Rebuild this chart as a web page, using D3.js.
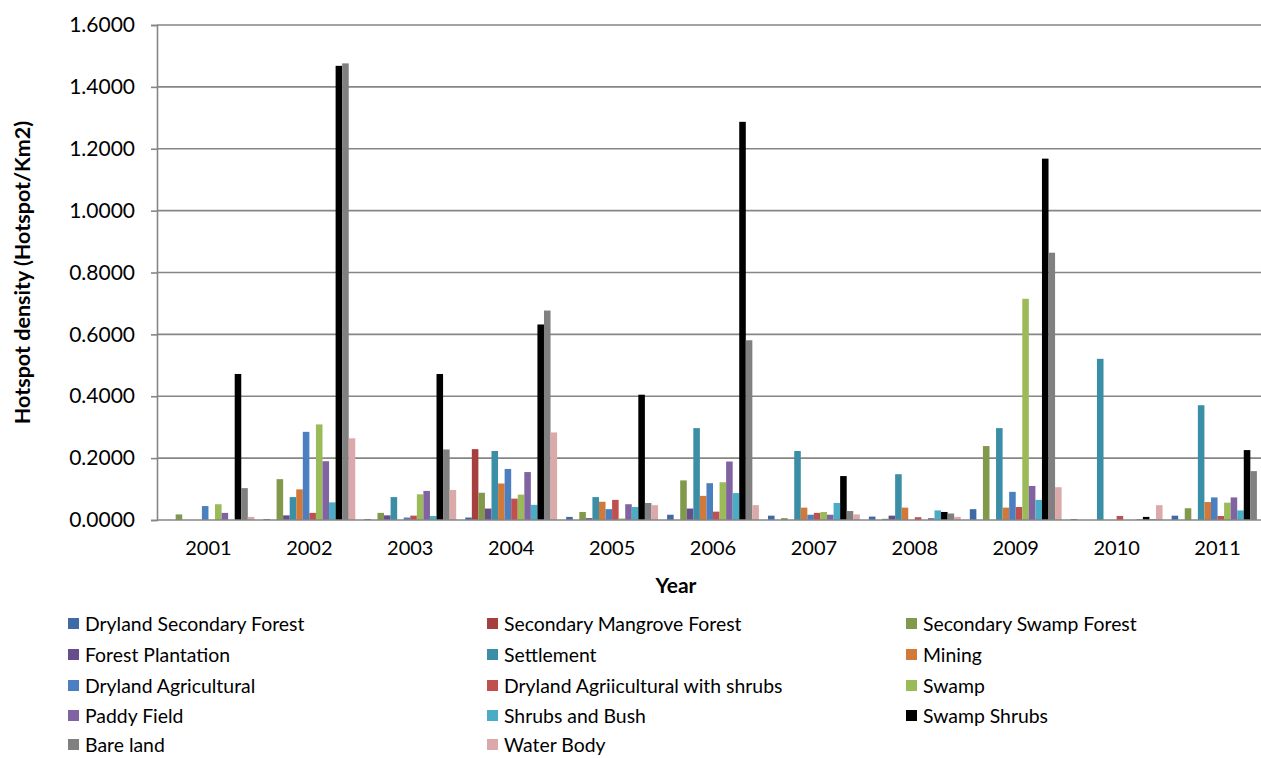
<!DOCTYPE html>
<html>
<head>
<meta charset="utf-8">
<script src="https://cdn.jsdelivr.net/npm/d3@7"></script>
<style>
  body { margin: 0; background: #fff; }
  svg { display: block; }
  text { font-family: Lato, "Open Sans", sans-serif; fill: #000; }
</style>
</head>
<body>
<svg id="chart" width="1261" height="758"></svg>
<script>
// ---- data ----
const years = ["2001","2002","2003","2004","2005","2006","2007","2008","2009","2010","2011"];
const seriesNames = [
  "Dryland Secondary Forest", "Secondary Mangrove Forest", "Secondary Swamp Forest",
  "Forest Plantation", "Settlement", "Mining",
  "Dryland Agricultural", "Dryland Agriicultural with shrubs", "Swamp",
  "Paddy Field", "Shrubs and Bush", "Swamp Shrubs",
  "Bare land", "Water Body"
];
const seriesColors = [
  "#3f6aa6", "#a5403e", "#80994a", "#664d8c", "#3a8ea5", "#d0793a",
  "#4b7fc0", "#c0504d", "#9bbb59", "#8064a2", "#4bacc6", "#000000",
  "#808080", "#dba9a9"
];
const drylandSecondaryForest = [0, 0.003, 0.003, 0.008, 0.010, 0.017, 0.014, 0.011, 0.035, 0.003, 0.014];
const secondaryMangroveForest = [0, 0, 0, 0.229, 0, 0, 0, 0, 0, 0, 0];
const secondarySwampForest = [0.018, 0.132, 0.023, 0.088, 0.026, 0.128, 0.006, 0.004, 0.239, 0, 0.038];
const forestPlantation = [0, 0.015, 0.015, 0.037, 0.006, 0.037, 0, 0.014, 0, 0, 0];
const settlement = [0, 0.074, 0.074, 0.223, 0.074, 0.297, 0.223, 0.148, 0.297, 0.521, 0.371];
const mining = [0, 0.099, 0, 0.118, 0.059, 0.078, 0.040, 0.040, 0.040, 0, 0.058];
const drylandAgricultural = [0.045, 0.285, 0.008, 0.165, 0.035, 0.119, 0.017, 0, 0.091, 0, 0.073];
const drylandAgriWithShrubs = [0, 0.023, 0.014, 0.069, 0.065, 0.027, 0.023, 0.009, 0.042, 0.013, 0.013];
const swamp = [0.051, 0.309, 0.083, 0.082, 0.005, 0.122, 0.026, 0, 0.715, 0, 0.056];
const paddyField = [0.023, 0.190, 0.094, 0.155, 0.051, 0.189, 0.017, 0.006, 0.110, 0, 0.073];
const shrubsAndBush = [0, 0.057, 0.013, 0.049, 0.042, 0.087, 0.055, 0.031, 0.065, 0.003, 0.031];
const swampShrubs = [0.472, 1.468, 0.472, 0.632, 0.405, 1.287, 0.142, 0.026, 1.168, 0.010, 0.226];
const bareLand = [0.103, 1.476, 0.228, 0.677, 0.055, 0.581, 0.029, 0.021, 0.864, 0.003, 0.158];
const waterBody = [0.010, 0.264, 0.097, 0.283, 0.048, 0.048, 0.018, 0.010, 0.106, 0.048, 0];
const seriesValues = [
  drylandSecondaryForest, secondaryMangroveForest, secondarySwampForest,
  forestPlantation, settlement, mining,
  drylandAgricultural, drylandAgriWithShrubs, swamp,
  paddyField, shrubsAndBush, swampShrubs,
  bareLand, waterBody
];
const yTicks = [0, 0.2, 0.4, 0.6, 0.8, 1.0, 1.2, 1.4, 1.6];

// ---- layout ----
const svg = d3.select("#chart");
const plot = { left: 157, top: 25, right: 1269, bottom: 520 };
const gridColor = "#868686";

const y = d3.scaleLinear().domain([0, 1.6]).range([plot.bottom, plot.top]);
const x0 = d3.scaleBand().domain(years).range([plot.left, plot.right])
  .paddingInner(0.09).paddingOuter(0.055);
const x1 = d3.scaleBand().domain(d3.range(seriesNames.length)).range([0, x0.bandwidth()]);

// gridlines
svg.append("g").selectAll("line").data(yTicks.filter(d => d > 0)).join("line")
  .attr("x1", plot.left).attr("x2", 1261)
  .attr("y1", d => y(d)).attr("y2", d => y(d))
  .attr("stroke", gridColor).attr("stroke-width", 1.6);

// bars
const groups = svg.append("g").selectAll("g").data(years).join("g")
  .attr("transform", d => `translate(${x0(d)},0)`);
groups.selectAll("rect")
  .data((yr, i) => seriesValues.map((vals, s) => ({ s, v: vals[i] })))
  .join("rect")
  .attr("x", d => x1(d.s))
  .attr("width", x1.bandwidth())
  .attr("y", d => y(d.v))
  .attr("height", d => y(0) - y(d.v))
  .attr("fill", d => seriesColors[d.s]);

// y axis
const yAxis = d3.axisLeft(y).tickValues(yTicks).tickFormat(d3.format(".4f")).tickSize(6).tickPadding(16);
const gy = svg.append("g").attr("transform", `translate(${plot.left},0)`).call(yAxis);
gy.select(".domain").attr("stroke", gridColor).attr("stroke-width", 1.6);
gy.selectAll(".tick line").attr("stroke", gridColor).attr("stroke-width", 1.6);
gy.selectAll(".tick text").style("font-family", "Lato, sans-serif").style("font-size", "21px").attr("fill", "#000");

// x axis
const xAxis = d3.axisBottom(x0).tickSize(0).tickPadding(21);
const gx = svg.append("g").attr("transform", `translate(0,${plot.bottom})`).call(xAxis);
gx.select(".domain").attr("d", `M${plot.left},0H1261`).attr("stroke", gridColor).attr("stroke-width", 1.6);
gx.selectAll(".tick text").style("font-family", "Lato, sans-serif").style("font-size", "20px").attr("fill", "#000");

// axis titles
svg.append("text").attr("x", 676).attr("y", 593).attr("text-anchor", "middle")
  .style("font-size", "21px").style("font-weight", "bold").text("Year");
svg.append("text").attr("transform", `translate(30,${(plot.top + plot.bottom) / 2}) rotate(-90)`)
  .attr("text-anchor", "middle").style("font-size", "21.5px").style("font-weight", "bold")
  .text("Hotspot density (Hotspot/Km2)");

// legend
const legCols = [68, 487, 906];
const legRows = [624, 655, 686, 716, 745];
const leg = svg.append("g").selectAll("g").data(seriesNames).join("g")
  .attr("transform", (d, i) => `translate(${legCols[i % 3]},${legRows[Math.floor(i / 3)]})`);
leg.append("rect").attr("x", 0).attr("y", -6).attr("width", 11).attr("height", 11)
  .attr("fill", (d, i) => seriesColors[i]);
leg.append("text").attr("x", 17).attr("y", 0).attr("dy", "0.35em")
  .style("font-size", "19.4px").text(d => d);
</script>
</body>
</html>
